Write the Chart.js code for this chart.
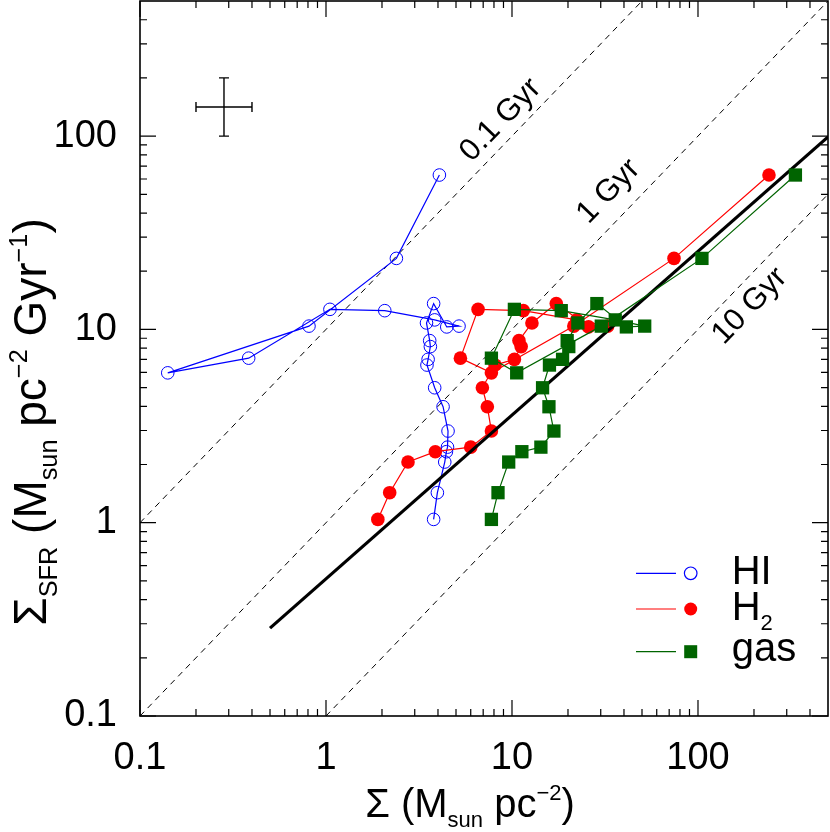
<!DOCTYPE html>
<html>
<head>
<meta charset="utf-8">
<style>
  html, body { margin: 0; padding: 0; background: #fff; }
  #wrap { width: 830px; height: 832px; }
</style>
<script src="https://cdn.jsdelivr.net/npm/chart.js@4.4.0/dist/chart.umd.min.js"></script>
</head>
<body>
<div id="wrap"><canvas id="ksChart" width="830" height="832"></canvas></div>
<script>
// ------------------------------------------------------------
// DATA (radial bins, in the order the lines join them)
// ------------------------------------------------------------
const sfr      = [62.9, 23.3, 10.4, 5.96, 7.10, 12.7, 12.5, 11.2, 10.4, 10.3, 13.6, 10.8,
                  8.75, 8.15, 7.00, 6.54, 4.99, 3.98, 2.98, 2.46, 2.33, 2.06, 1.43, 1.04];
const hiSigma  = [4.07, 2.39, 0.81, 0.141, 0.384, 1.05, 2.07, 3.84, 5.19, 4.46, 3.79, 3.47,
                  3.61, 3.64, 3.54, 3.49, 3.84, 4.26, 4.53, 4.50, 4.44, 4.35, 3.97, 3.79];
const h2Sigma  = [240.8, 74.3, 21.5, 7.75, 5.28, 6.57, 11.5, 22.3, 32.7, 25.8, 17.3, 12.8,
                  10.9, 11.2, 10.3, 8.11, 6.93, 7.37, 7.75, 6.0, 3.87, 2.76, 2.20, 1.90];
const gasSigma = [334, 105, 30.2, 10.6, 7.75, 10.3, 18.4, 35.9, 51.7, 41.2, 28.6, 22.6,
                  19.8, 20.2, 18.7, 15.9, 14.6, 15.8, 16.8, 14.3, 11.3, 9.6, 8.41, 7.75];

// fitted relation (thick black line)
const fitSigma = [0.5, 500];
const fitSfr   = [0.285, 99];

// constant depletion time lines
const depLabels = ["0.1 Gyr", "1 Gyr", "10 Gyr"];
const dep01Sigma = [0.1, 50],  dep01Sfr = [1, 500];
const dep1Sigma  = [0.1, 500], dep1Sfr  = [0.1, 500];
const dep10Sigma = [1, 500],   dep10Sfr = [0.1, 50];

// typical error bar
const errSigma = [0.2, 0.4];
const errSfr   = [100, 200];

// axis ticks
const xTicks = [0.1, 1, 10, 100];
const yTicks = [0.1, 1, 10, 100];
const tickLabels = { 0.1: "0.1", 1: "1", 10: "10", 100: "100" };

const legendNames = ["HI", "H", "gas"];

// ------------------------------------------------------------
const FONT = "'Liberation Sans', Arial, Helvetica, sans-serif";
const BLUE = "#0000ff", RED = "#ff0000", GREEN = "#006400";

function pts(xs, ys) {
  return xs.map((x, i) => ({ x: x, y: ys[i] }));
}

function minorValues(lo, hi) {
  const out = [];
  for (let e = -1; e <= 2; e++) {
    for (let m = 2; m <= 9; m++) {
      const v = m * Math.pow(10, e);
      if (v > lo && v < hi) out.push(v);
    }
  }
  return out;
}

// text with sub/superscripts: parts = [[text, 'n'|'sub'|'sup'], ...]
function richWidth(ctx, parts, size) {
  let w = 0;
  parts.forEach(p => {
    const s = p[1] === "n" ? size : size * 0.55;
    ctx.font = s + "px " + FONT;
    w += ctx.measureText(p[0]).width;
  });
  return w;
}
function drawRich(ctx, parts, x, y, size) {
  let cx = x;
  parts.forEach(p => {
    const s = p[1] === "n" ? size : size * 0.55;
    ctx.font = s + "px " + FONT;
    let dy = 0;
    if (p[1] === "sub") dy = size * 0.24;
    if (p[1] === "sup") dy = -size * 0.42;
    ctx.fillText(p[0], cx, y + dy);
    cx += ctx.measureText(p[0]).width;
  });
}

const decorations = {
  id: "decorations",
  afterDatasetsDraw(chart) {
    const ctx = chart.ctx;
    const xs = chart.scales.x, ys = chart.scales.y;
    const a = chart.chartArea;
    ctx.save();
    ctx.strokeStyle = "#000";
    ctx.fillStyle = "#000";

    // error bar cross
    const x0 = xs.getPixelForValue(errSigma[0]), x1 = xs.getPixelForValue(errSigma[1]);
    const y0 = ys.getPixelForValue(errSfr[0]), y1 = ys.getPixelForValue(errSfr[1]);
    const xc = xs.getPixelForValue(Math.sqrt(errSigma[0] * errSigma[1]));
    const yc = ys.getPixelForValue(Math.sqrt(errSfr[0] * errSfr[1]));
    ctx.lineWidth = 1.4;
    ctx.beginPath();
    ctx.moveTo(x0, yc); ctx.lineTo(x1, yc);
    ctx.moveTo(x0, yc - 5); ctx.lineTo(x0, yc + 5);
    ctx.moveTo(x1, yc - 5); ctx.lineTo(x1, yc + 5);
    ctx.moveTo(xc, y0); ctx.lineTo(xc, y1);
    ctx.moveTo(xc - 5, y0); ctx.lineTo(xc + 5, y0);
    ctx.moveTo(xc - 5, y1); ctx.lineTo(xc + 5, y1);
    ctx.stroke();

    // depletion time labels, parallel to the dashed lines
    const ang = Math.atan2(ys.getPixelForValue(1) - ys.getPixelForValue(10),
                           xs.getPixelForValue(10) - xs.getPixelForValue(1));
    const anchors = [[8.69, 121], [33.1, 51.7], [190, 13.2]];
    ctx.font = "31px " + FONT;
    ctx.textAlign = "center";
    ctx.textBaseline = "middle";
    anchors.forEach((p, i) => {
      ctx.save();
      ctx.translate(xs.getPixelForValue(p[0]), ys.getPixelForValue(p[1]));
      ctx.rotate(-ang);
      ctx.fillText(depLabels[i], 0, 0);
      ctx.restore();
    });

    // frame
    ctx.lineWidth = 1.6;
    ctx.strokeRect(a.left, a.top, a.right - a.left, a.bottom - a.top);

    // inward ticks on all four sides
    ctx.lineWidth = 1.2;
    ctx.beginPath();
    const tick = (v, len, horiz) => {
      if (horiz) {
        const px = xs.getPixelForValue(v);
        ctx.moveTo(px, a.bottom); ctx.lineTo(px, a.bottom - len);
        ctx.moveTo(px, a.top); ctx.lineTo(px, a.top + len);
      } else {
        const py = ys.getPixelForValue(v);
        ctx.moveTo(a.left, py); ctx.lineTo(a.left + len, py);
        ctx.moveTo(a.right, py); ctx.lineTo(a.right - len, py);
      }
    };
    xTicks.forEach(v => tick(v, 16, true));
    yTicks.forEach(v => tick(v, 16, false));
    minorValues(0.1, 500).forEach(v => { tick(v, 7, true); tick(v, 7, false); });
    ctx.stroke();
    ctx.restore();
  },
  afterDraw(chart) {
    const ctx = chart.ctx;
    ctx.save();
    ctx.fillStyle = "#000";
    ctx.textAlign = "left";
    ctx.textBaseline = "alphabetic";

    // x title
    const xt = [["\u03A3 (M", "n"], ["sun", "sub"], [" pc", "n"], ["\u22122", "sup"], [")", "n"]];
    const xw = richWidth(ctx, xt, 40);
    drawRich(ctx, xt, 470 - xw / 2, 817, 40);

    // y title
    const yt = [["\u03A3", "n"], ["SFR", "sub"], [" (M", "n"], ["sun", "sub"], [" pc", "n"],
                ["\u22122", "sup"], [" Gyr", "n"], ["\u22121", "sup"], [")", "n"]];
    const yw = richWidth(ctx, yt, 46);
    ctx.save();
    ctx.translate(46, 422);
    ctx.rotate(-Math.PI / 2);
    drawRich(ctx, yt, -yw / 2, 0, 46);
    ctx.restore();

    // legend
    const rows = [
      { y: 573.3, base: 584, color: BLUE, mark: "open" },
      { y: 609, base: 620, color: RED, mark: "dot" },
      { y: 651.7, base: 661, color: GREEN, mark: "square" }
    ];
    rows.forEach((r, i) => {
      ctx.strokeStyle = r.color;
      ctx.fillStyle = r.color;
      ctx.lineWidth = 1.2;
      ctx.beginPath();
      ctx.moveTo(636, r.y); ctx.lineTo(676, r.y);
      ctx.stroke();
      if (r.mark === "open") {
        ctx.beginPath(); ctx.arc(690.7, r.y, 6.3, 0, 2 * Math.PI); ctx.stroke();
      } else if (r.mark === "dot") {
        ctx.beginPath(); ctx.arc(690.7, r.y, 6.5, 0, 2 * Math.PI); ctx.fill();
      } else {
        ctx.fillRect(684.2, r.y - 6.5, 13, 13);
      }
      ctx.fillStyle = "#000";
      if (i === 1) {
        drawRich(ctx, [[legendNames[i], "n"], ["2", "sub"]], 731.7, r.base, 40);
      } else {
        ctx.font = "40px " + FONT;
        ctx.fillText(legendNames[i], 731.7, r.base);
      }
    });
    ctx.restore();
  }
};

const dashedStyle = {
  showLine: true, borderColor: "#000", borderWidth: 1, borderDash: [6, 5],
  pointRadius: 0, order: 10
};

new Chart(document.getElementById("ksChart").getContext("2d"), {
  type: "scatter",
  data: {
    datasets: [
      Object.assign({ label: "0.1 Gyr", data: pts(dep01Sigma, dep01Sfr) }, dashedStyle),
      Object.assign({ label: "1 Gyr", data: pts(dep1Sigma, dep1Sfr) }, dashedStyle),
      Object.assign({ label: "10 Gyr", data: pts(dep10Sigma, dep10Sfr) }, dashedStyle),
      {
        label: "HI",
        data: pts(hiSigma, sfr),
        showLine: true,
        borderColor: BLUE,
        borderWidth: 1.2,
        pointStyle: "circle",
        pointRadius: 6.3,
        pointBorderWidth: 1,
        pointBorderColor: BLUE,
        pointBackgroundColor: "rgba(0,0,0,0)",
        order: 5
      },
      {
        label: "H2",
        data: pts(h2Sigma, sfr),
        showLine: true,
        borderColor: RED,
        borderWidth: 1.2,
        pointStyle: "circle",
        pointRadius: 6.8,
        pointBorderWidth: 0,
        pointBackgroundColor: RED,
        order: 4
      },
      {
        label: "fit",
        data: pts(fitSigma, fitSfr),
        showLine: true,
        borderColor: "#000",
        borderWidth: 3.2,
        pointRadius: 0,
        order: 3
      },
      {
        label: "gas",
        data: pts(gasSigma, sfr),
        showLine: true,
        borderColor: GREEN,
        borderWidth: 1.2,
        pointStyle: "rect",
        pointRadius: 9.4,
        pointBorderWidth: 0,
        pointBackgroundColor: GREEN,
        order: 2
      }
    ]
  },
  options: {
    responsive: false,
    animation: false,
    events: [],
    layout: { autoPadding: false, padding: { top: 1, right: 2, left: 0, bottom: 0 } },
    plugins: { legend: { display: false }, tooltip: { enabled: false } },
    scales: {
      x: {
        type: "logarithmic",
        min: 0.1,
        max: 500,
        grid: { display: false },
        border: { display: false },
        afterBuildTicks: s => { s.ticks = xTicks.map(v => ({ value: v })); },
        afterFit: s => {
          s.height = 116;
          s.paddingLeft = 0; s.paddingRight = 0; s.paddingTop = 0; s.paddingBottom = 0;
        },
        ticks: {
          autoSkip: false, maxRotation: 0, padding: 12, color: "#000",
          font: { family: FONT, size: 38 },
          callback: v => tickLabels[v] || ""
        }
      },
      y: {
        type: "logarithmic",
        min: 0.1,
        max: 500,
        grid: { display: false },
        border: { display: false },
        afterBuildTicks: s => { s.ticks = yTicks.map(v => ({ value: v })); },
        afterFit: s => {
          s.width = 140;
          s.paddingLeft = 0; s.paddingRight = 0; s.paddingTop = 0; s.paddingBottom = 0;
        },
        ticks: {
          autoSkip: false, padding: 15, color: "#000",
          font: { family: FONT, size: 38 },
          callback: v => tickLabels[v] || ""
        }
      }
    }
  },
  plugins: [decorations]
});
</script>
</body>
</html>
